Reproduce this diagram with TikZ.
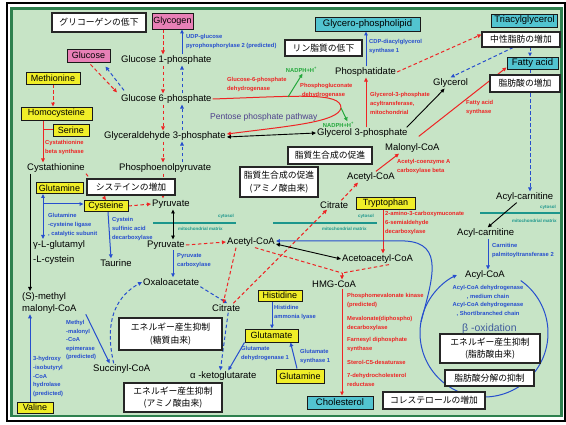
\documentclass[tikz,border=0pt]{standalone}
\usepackage{fontspec}
\setmainfont{Liberation Sans}
\newfontfamily\jpfont{Noto Sans CJK JP}
\usetikzlibrary{arrows.meta}

\definecolor{bggreen}{RGB}{199,228,198}
\definecolor{framegreen}{RGB}{46,128,78}
\definecolor{metyellow}{RGB}{240,238,40}
\definecolor{sugpink}{RGB}{232,128,182}
\definecolor{lipcyan}{RGB}{82,196,208}
\definecolor{enzred}{RGB}{238,36,36}
\definecolor{enzblue}{RGB}{38,78,206}
\definecolor{memteal}{RGB}{28,150,140}
\definecolor{nadgreen}{RGB}{36,168,60}
\definecolor{pppurple}{RGB}{78,64,140}
\definecolor{betablue}{RGB}{64,92,156}

\pgfdeclarelayer{back}
\pgfsetlayers{back,main}

\begin{document}
\begin{tikzpicture}[x=1pt,y=-1pt,
        every node/.style={font=\fontsize{9.5}{11}\selectfont, inner sep=1pt},
        met/.style={anchor=west},
        jbox/.style={
            draw=black!85,
            line width=1.2pt,
            fill=white,
            align=center,
            inner sep=0pt,
            font=\jpfont\fontsize{8.8}{12.5}\selectfont
        },
        ybox/.style={
            draw=black!90,
            line width=0.9pt,
            fill=metyellow,
            inner sep=0pt,
            font=\fontsize{9}{10}\selectfont
        },
        pbox/.style={ybox, fill=sugpink},
        cbox/.style={ybox, fill=lipcyan, font=\fontsize{9.5}{10}\selectfont},
        enzr/.style={
            anchor=north west,
            align=left,
            inner sep=0pt,
            text=enzred,
            font=\bfseries\fontsize{5.8}{8.6}\selectfont
        },
        enzb/.style={enzr, text=enzblue},
        memline/.style={memteal, line width=1.5pt},
        memtxt/.style={text=memteal, inner sep=0pt, font=\bfseries\fontsize{4.5}{5}\selectfont},
        headtip/.style={-{Triangle[length=4pt,width=3.6pt]}},
        bothtip/.style={{Triangle[length=4pt,width=3.6pt]}-{Triangle[length=4pt,width=3.6pt]}},
        redd/.style={headtip, enzred, line width=1pt, dash pattern=on 3.5pt off 2.5pt},
        reds/.style={headtip, enzred, line width=1pt},
        blud/.style={headtip, enzblue, line width=1pt, dash pattern=on 3.5pt off 2.5pt},
        blus/.style={headtip, enzblue, line width=1pt},
        blk/.style={headtip, black, line width=0.9pt},
        grn/.style={headtip, nadgreen, line width=1pt}
    ]

    \useasboundingbox (0,0) rectangle (566,425);

    % Helper columns and junctions
    \coordinate (xR) at (163,0);
    \coordinate (xB) at (182,0);
    \coordinate (xcbs) at (43,0);
    \coordinate (xleft) at (30,0);
    \coordinate (xpyr) at (173,0);
    \coordinate (xpl) at (366,0);
    \coordinate (xfa) at (530,0);
    \coordinate (xacyl) at (488,0);
    \coordinate (xhis) at (272,0);
    \coordinate (xtrp) at (383,0);
    \coordinate (gcj) at (43,204);
    \coordinate (hmgj) at (342,273);
    \coordinate (ppp1) at (288,97);
    \coordinate (ppp2) at (341,108);
    \coordinate (bcen) at (484,333);
    \coordinate (betaout) at (421,322);

    % Japanese boxes
    \node[jbox, minimum width=94pt, minimum height=19pt] (jgly) at (99,22.5) {グリコーゲンの低下};
    \node[jbox, minimum width=77pt, minimum height=16pt] (jpl) at (323.5,48) {リン脂質の低下};
    \node[jbox, minimum width=78pt, minimum height=15pt] (jtg) at (521,39.5) {中性脂肪の増加};
    \node[jbox, minimum width=70pt, minimum height=17pt] (jfa) at (525,83.5) {脂肪酸の増加};
    \node[jbox, minimum width=88pt, minimum height=16pt] (jcys) at (131,187) {システインの増加};
    \node[jbox, minimum width=84pt, minimum height=17pt] (jlip) at (330,155.5) {脂質生合成の促進};
    \node[jbox, minimum width=78pt, minimum height=30pt] (jlipaa) at (279,182) {脂質生合成の促進\\(アミノ酸由来)};
    \node[jbox, minimum width=103pt, minimum height=32pt] (jensug) at (170.5,334) {エネルギー産生抑制\\(糖質由来)};
    \node[jbox, minimum width=98pt, minimum height=29pt] (jenaa) at (173,397.5) {エネルギー産生抑制\\(アミノ酸由来)};
    \node[jbox, minimum width=100pt, minimum height=29pt] (jenfa) at (490,348.5) {エネルギー産生抑制\\(脂肪酸由来)};
    \node[jbox, minimum width=89pt, minimum height=16pt] (jfadeg) at (489.5,378) {脂肪酸分解の抑制};
    \node[jbox, minimum width=102pt, minimum height=17pt] (jchol) at (434,400.5) {コレステロールの増加};

    % Coloured boxes
    \node[pbox, minimum width=41pt, minimum height=16pt] (glycogen) at (172.5,21) {Glycogen};
    \node[pbox, minimum width=43pt, minimum height=13pt] (glucose) at (88.5,55.5) {Glucose};
    \node[ybox, minimum width=54pt, minimum height=12pt] (methionine) at (53,78) {Methionine};
    \node[ybox, minimum width=71pt, minimum height=13pt] (homocys) at (56.5,113.5) {Homocysteine};
    \node[ybox, minimum width=36pt, minimum height=12pt] (serine) at (71,130) {Serine};
    \node[ybox, minimum width=47pt, minimum height=11pt] (glnL) at (59.5,188) {Glutamine};
    \node[ybox, minimum width=44pt, minimum height=11pt] (cysteine) at (106,206) {Cysteine};
    \node[ybox, minimum width=59pt, minimum height=12pt] (trp) at (385.5,203) {Tryptophan};
    \node[ybox, minimum width=44pt, minimum height=11pt] (his) at (280,295.5) {Histidine};
    \node[ybox, minimum width=53pt, minimum height=13pt] (glu) at (271.5,335.5) {Glutamate};
    \node[ybox, minimum width=48pt, minimum height=14pt] (glnB) at (300,376) {Glutamine};
    \node[ybox, minimum width=36pt, minimum height=11pt] (valine) at (35,407.5) {Valine};
    \node[cbox, minimum width=105pt, minimum height=14pt] (gpl) at (367.5,24) {Glycero-phospholipid};
    \node[cbox, minimum width=66pt, minimum height=13pt] (tag) at (524.5,20.5) {Triacylglycerol};
    \node[cbox, minimum width=51pt, minimum height=12pt] (fattyacid) at (532.5,63) {Fatty acid};
    \node[cbox, minimum width=66pt, minimum height=13pt] (chol) at (340,402.5) {Cholesterol};

    % Metabolites
    \node[met] (g1p) at (120,60) {Glucose 1-phosphate};
    \node[met] (g6p) at (120,99) {Glucose 6-phosphate};
    \node[met] (ga3p) at (103,136) {Glyceraldehyde 3-phosphate};
    \node[met] (pep) at (118,168) {Phosphoenolpyruvate};
    \node[met] (pyrc) at (151,204) {Pyruvate};
    \node[met] (phosphatidate) at (334,72) {Phosphatidate};
    \node[met] (glycerol) at (432,83) {Glycerol};
    \node[met] (gro3p) at (316,133) {Glycerol 3-phosphate};
    \node[met] (malonyl) at (384,148) {Malonyl-CoA};
    \node[met] (acc) at (346,177) {Acetyl-CoA};
    \node[met] (citc) at (319,205) {Citrate};
    \node[met] (cystath) at (26,168) {Cystathionine};
    \node[anchor=north west, align=left, font=\fontsize{9.5}{15}\selectfont] (ggc) at (32,239) {γ-L-glutamyl\\-L-cystein};
    \node (taurine) at (116,263) {Taurine};
    \node[met] (pyrm) at (146,245) {Pyruvate};
    \node[met] (acm) at (226,242) {Acetyl-CoA};
    \node[met] (oaa) at (142,282) {Oxaloacetate};
    \node[met] (citm) at (211,308) {Citrate};
    \node[met] (acac) at (341,259) {Acetoacetyl-CoA};
    \node[met] (hmg) at (311,284) {HMG-CoA};
    \node[met] (acylc) at (495,197) {Acyl-carnitine};
    \node[met] (acylm) at (456,233) {Acyl-carnitine};
    \node[met] (acylcoa) at (464,275) {Acyl-CoA};
    \node[anchor=north west, align=left, font=\fontsize{9.5}{12}\selectfont] (smm) at (21,291) {(S)-methyl\\malonyl-CoA};
    \node[met] (succ) at (92,369) {Succinyl-CoA};
    \node[met] (akg) at (189,376) {α -ketoglutarate};
    \node[met, text=betablue, font=\fontsize{10.5}{12}\selectfont] (beta) at (461,329) {β -oxidation};
    \node[met, text=pppurple, font=\fontsize{8.5}{10}\selectfont] (ppp) at (209,117) {Pentose phosphate pathway};
    \node[text=nadgreen, font=\bfseries\fontsize{5.8}{7}\selectfont] (nadph1) at (301.5,70) {NADPH+H\textsuperscript{+}};
    \node[text=nadgreen, font=\bfseries\fontsize{5.8}{7}\selectfont] (nadph2) at (338.5,125) {NADPH+H\textsuperscript{+}};

    % Membranes
    \node[memtxt] (cytL) at (226,216) {cytosol};
    \node[memtxt, anchor=west] (matL) at (178,228.5) {mitochondrial matrix};
    \node[memtxt] (cytM) at (366,216) {cytosol};
    \node[memtxt, anchor=west] (matM) at (322,228.5) {mitochondrial matrix};
    \node[memtxt] (cytR) at (548,207.5) {cytosol};
    \node[memtxt, anchor=west] (matR) at (512,221) {mitochondrial matrix};

    % Enzymes
    \node[enzb] (udp) at (186,34.5) {UDP-glucose\\pyrophosphorylase 2 (predicted)};
    \node[enzr] (g6pd) at (227,77.5) {Glucose-6-phosphate\\dehydrogenase};
    \node[enzr] (pgd) at (300,83.5) {Phosphogluconate\\\hspace{2pt}dehydrogenase};
    \node[enzb] (cds) at (369,39.5) {CDP-diacylglycerol\\synthase 1};
    \node[enzr] (gpat) at (370,92.5) {Glycerol-3-phosphate\\acyltransferase,\\mitochondrial};
    \node[enzr] (fas) at (466,100.5) {Fatty acid\\synthase};
    \node[enzr] (acacb) at (397,159.5) {Acetyl-coenzyme A\\carboxylase beta};
    \node[enzr] (cbs) at (45,140.5) {Cystathionine\\beta synthase};
    \node[enzb] (gcl) at (48,213.5) {Glutamine\\-cysteine ligase\\, catalytic subunit};
    \node[enzb] (csad) at (112,217.5) {Cystein\\sulfinic acid\\decarboxylase};
    \node[enzb] (pc) at (177,253.5) {Pyruvate\\carboxylase};
    \node[enzb] (mcee) at (66,320) {Methyl\\-malonyl\\-CoA\\epimerase\\(predicted)};
    \node[enzb] (hibch) at (33,356.5) {3-hydroxy\\-isobutyryl\\-CoA\\hydrolase\\(predicted)};
    \node[enzb] (hal) at (274,305.5) {Histidine\\ammonia lyase};
    \node[enzb] (glud) at (241,346.5) {Glutamate\\dehydrogenase 1};
    \node[enzb] (glt) at (300,349.5) {Glutamate\\synthase 1};
    \node[enzr] (kmo) at (385,211.5) {2-amino-3-carboxymuconate\\6-semialdehyde\\decarboxylase};
    \node[enzr] (pmvk) at (347,293) {Phosphomevalonate kinase\\(predicted)};
    \node[enzr] (mvd) at (347,316.5) {Mevalonate(diphospho)\\decarboxylase};
    \node[enzr] (fdps) at (347,337.5) {Farnesyl diphosphate\\synthase};
    \node[enzr] (sc5d) at (347,360.5) {Sterol-C5-desaturase};
    \node[enzr] (dhcr7) at (347,373.5) {7-dehydrocholesterol\\reductase};
    \node[enzb] (cpt2) at (492,243.5) {Carnitine\\palmitoyltransferase 2};
    \node[enzb, anchor=center, align=center] (acad) at (488,301) {Acyl-CoA dehydrogenase\\, medium chain\\Acyl-CoA dehydrogenase\\, Short/branched chain};

    \begin{pgfonlayer}{back}
    % Frame
    \draw[line width=2pt] (7,3.5) rectangle (565,421);
    \draw[framegreen, line width=2.5pt, fill=bggreen] (11.5,8.5) rectangle (561.5,416);

    % Membrane lines
    \draw[memline] (153,223) -- (236,223);
    \draw[memline] (273,223) -- (377,223);
    \draw[memline] (480,213) -- (560,213);

    % Glycogen and glycolysis
    \draw[redd] (glycogen.south -| xR) -- (g1p.north -| xR);
    \draw[redd] (g1p.south -| xR) -- (g6p.north -| xR);
    \draw[redd] (g6p.south -| xR) -- (ga3p.north -| xR);
    \draw[redd] (ga3p.south -| xR) -- (pep.north -| xR);
    \draw[redd] (pep.south -| xR) -- (pyrc.north -| xR);
    \draw[blus] (g1p.north -| xB) -- (glycogen.south -| xB);
    \draw[blud] (g6p.north -| xB) -- (g1p.south -| xB);
    \draw[blud] (ga3p.north -| xB) -- (g6p.south -| xB);
    \draw[blud] (pep.north -| xB) -- (ga3p.south -| xB);
    \draw[redd] ([xshift=2pt,yshift=-2pt]glucose.south) -- ([xshift=-3pt,yshift=1pt]g6p.north west);
    \draw[blud] ([xshift=4pt,yshift=3pt]g6p.north west) -- ([xshift=-5pt,yshift=-4pt]glucose.south east);

    % Pentose phosphate pathway
    \draw[reds] (g6p.east) .. controls (300,96) and (341,92) .. (ppp2) .. controls (338,122) and (290,126) .. ([yshift=2pt]ga3p.east);
    \draw[grn] (ppp1) -- ([xshift=1pt]nadph1.south);
    \draw[grn] (ppp2) -- ([xshift=9pt]nadph2.north);
    \draw[bothtip, black, line width=0.9pt] ([yshift=-1pt]ga3p.east) -- (gro3p.west);

    % Lipids
    \draw[reds] (gro3p.north -| xpl) -- (phosphatidate.south -| xpl);
    \draw[blus] (phosphatidate.north -| xpl) -- (gpl.south -| xpl);
    \draw[redd] (phosphatidate.east) -- ([yshift=5pt]jtg.west);
    \draw[blud] ([xshift=-8pt]jtg.south) -- (glycerol.north);
    \draw[blud] (jtg.south -| xfa) -- (fattyacid.north -| xfa);
    \draw[blk] ([xshift=-2pt]gro3p.north east) -- ([xshift=-6pt]glycerol.south);
    \draw[reds] ([xshift=-20pt]acc.north east) -- ([xshift=15pt]malonyl.south west);
    \draw[reds] ([xshift=-22pt,yshift=6pt]malonyl.north east) -- ([yshift=2pt]fattyacid.south west);

    % Sulphur amino acids
    \draw[redd] (methionine.south) -- (methionine.south |- homocys.north);
    \draw[reds] (homocys.south -| xcbs) -- (cystath.north -| xcbs);
    \draw[enzred, line width=1pt] (serine.west) -- (serine.west -| xcbs);
    \draw[redd] (cystath.south east) -- (cysteine.north);
    \draw[blk] (cystath.south -| xleft) -- (smm.north -| xleft);
    \draw[blus] (gcj) -- (glnL.south -| gcj);
    \draw[blus] (gcj) -- (ggc.north -| gcj);
    \draw[blus] (gcj) -- (gcj -| cysteine.west);
    \draw[redd] (cysteine.east) -- (pyrc.west);
    \draw[blus] ([xshift=2pt]cysteine.south) -- ([xshift=-5pt]taurine.north);

    % Pyruvate and TCA cycle
    \draw[bothtip, black, line width=0.9pt] (pyrc.south -| xpyr) -- (pyrm.north -| xpyr);
    \draw[blus] (pyrm.south -| xpyr) -- (oaa.north -| xpyr);
    \draw[redd] (pyrm.east) -- (acm.west);
    \draw[blud] (oaa.south east) -- ([xshift=1pt]citm.north);
    \draw[redd] ([xshift=10pt]acm.south west) -- ([xshift=-3pt]citm.north);
    \draw[redd] ([xshift=-8pt]citm.north east) -- ([xshift=8pt]citc.south west);
    \draw[redd] ([xshift=-8pt]citc.north east) -- ([xshift=12pt]acc.south west);
    \draw[blud] ([xshift=2pt]citm.south) -- ([xshift=-3pt]akg.north);
    \draw[blud] ([xshift=-8pt]succ.north) .. controls (106,330) and (110,300) .. (oaa.west);
    \draw[blus] ([xshift=8pt]smm.south east) -- ([xshift=-12pt]succ.north);
    \draw[blus] (valine.north -| xleft) -- (smm.south -| xleft);

    % Ketone bodies and cholesterol
    \draw[bothtip, black, line width=0.9pt] ([yshift=-2pt]acm.east) -- (acac.west);
    \draw[redd, -] ([xshift=4pt]acm.south) -- (hmgj);
    \draw[redd, -] ([xshift=48pt]acac.south west) -- (hmgj);
    \draw[redd] (hmgj) -- (hmgj |- hmg.north);
    \draw[reds] (hmg.south -| hmgj) -- (chol.north -| hmgj);
    \draw[reds] (trp.south -| xtrp) -- (acac.north -| xtrp);
    \draw[blus] (betaout) .. controls (432,280) and (445,243) .. (405,241) -- ([yshift=1pt]acm.east);

    % Fatty acid oxidation
    \draw[blud] (fattyacid.south -| xfa) -- (acylc.north -| xfa);
    \draw[blk] ([xshift=-8pt]acylc.south) -- ([xshift=2pt]acylm.north);
    \draw[blus] (acylm.south -| xacyl) -- (acylcoa.north -| xacyl);
    \draw[blus] ([shift={(-55:64)}]bcen) arc[start angle=-55, end angle=245, radius=64];

    % Glutamate
    \draw[blus] (his.south -| xhis) -- (glu.north -| xhis);
    \draw[blus] ([xshift=-27pt]glu.south) -- ([xshift=5pt]akg.north);
    \draw[blus] ([xshift=-3pt]glnB.north) -- ([xshift=19pt]glu.south);
    \end{pgfonlayer}

\end{tikzpicture}
\end{document}
